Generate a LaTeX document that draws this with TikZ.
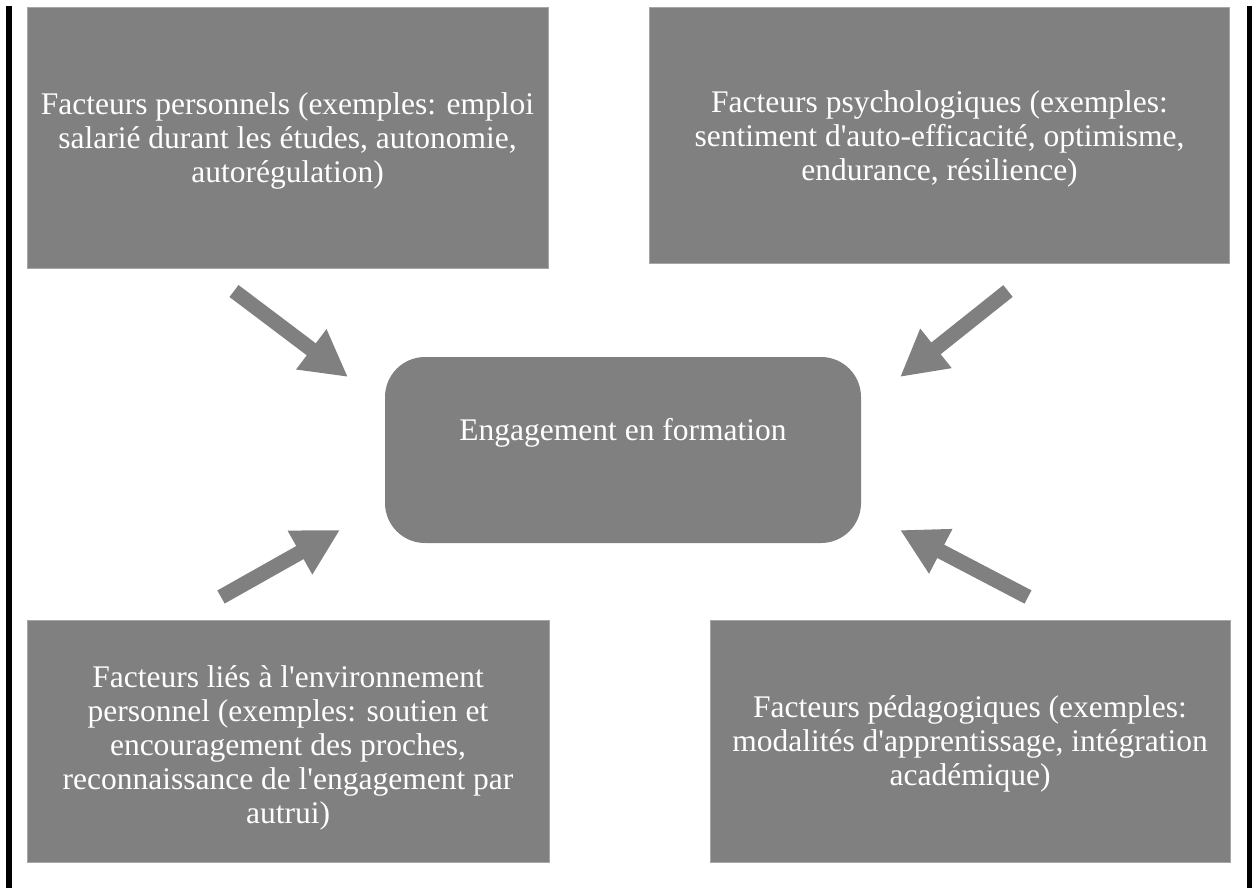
\documentclass[tikz,border=0pt]{standalone}
\usepackage{fontspec}
\setmainfont{Liberation Serif}[Ligatures=TeXOff]
\usetikzlibrary{arrows.meta}
\definecolor{boxgray}{HTML}{808080}
\definecolor{edgegray}{HTML}{A6A6A6}
\begin{document}
\begin{tikzpicture}[x=1pt,y=-1pt,
  box/.style={fill=boxgray, draw=edgegray, line width=0.8pt, inner sep=0pt},
  boxtext/.style={text=white, font=\fontsize{31.5}{34}\selectfont, align=center, inner sep=0pt},
  bigarrow/.style={draw=boxgray, line width=15pt, -{Triangle[length=46pt,width=47pt]}}]
\useasboundingbox (0,0) rectangle (1252,888);
\fill[black] (6,6) rectangle (12,888);
\fill[black] (1247,6) rectangle (1252,888);
\node[box, minimum width=521pt, minimum height=261pt] (perso) at (287.5,137.5) {};
\node[boxtext] (perso-t) at ([yshift=-3pt]perso.center)
  {Facteurs personnels (exemples: emploi\\salarié durant les études, autonomie,\\autorégulation)};
\node[box, minimum width=580pt, minimum height=256pt] (psy) at (939.5,135) {};
\node[boxtext] (psy-t) at ([yshift=-4pt]psy.center)
  {Facteurs psychologiques (exemples:\\sentiment d'auto-efficacité, optimisme,\\endurance, résilience)};
\node[box, minimum width=522pt, minimum height=242pt] (env) at (288,741) {};
\node[boxtext] (env-t) at ([yshift=-7pt]env.center)
  {Facteurs liés à l'environnement\\personnel (exemples: soutien et\\encouragement des proches,\\reconnaissance de l'engagement par\\autrui)};
\node[box, minimum width=520pt, minimum height=242pt] (peda) at (970,741) {};
\node[boxtext] (peda-t) at ([yshift=-3pt]peda.center)
  {Facteurs pédagogiques (exemples:\\modalités d'apprentissage, intégration\\académique)};
\node[box, draw=none, rounded corners=40pt, minimum width=476pt, minimum height=186pt] (eng) at (623,450) {};
\node[boxtext] (eng-t) at ([yshift=17pt]eng.center) {Engagement en formation};
\coordinate (a1s) at (234,291); \coordinate (a1e) at (348,377);
\coordinate (a2s) at (1008,291); \coordinate (a2e) at (900,377);
\coordinate (a3s) at (221,597); \coordinate (a3e) at (340,530);
\coordinate (a4s) at (1028,597); \coordinate (a4e) at (900,530);
\draw[bigarrow] (a1s) -- (a1e);
\draw[bigarrow] (a2s) -- (a2e);
\draw[bigarrow] (a3s) -- (a3e);
\draw[bigarrow] (a4s) -- (a4e);
\end{tikzpicture}
\end{document}
